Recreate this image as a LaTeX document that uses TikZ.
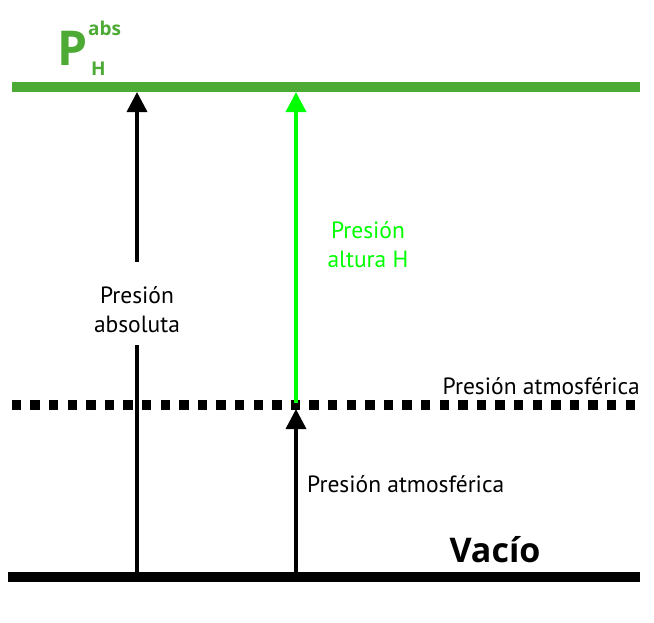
\documentclass[tikz,border=0pt]{standalone}
\usepackage{fontspec}
\setmainfont{PT Sans}
\setsansfont{Open Sans}
\usetikzlibrary{arrows.meta}
\definecolor{lvlgreen}{HTML}{4DAA35}
\definecolor{hgreen}{HTML}{00FF00}

\begin{document}
\begin{tikzpicture}[x=1pt, y=-1pt,
    lbl/.style = {font=\fontsize{23.5}{29}\selectfont, align=center, inner sep=0pt},
    tag/.style = {text=lvlgreen, font=\sffamily\bfseries\fontsize{19}{19}\selectfont, inner sep=0pt, anchor=base west},
    arr/.style = {line width=3.5pt, -{Triangle[length=20pt, width=20pt]}}]
    \useasboundingbox (0,0) rectangle (654,622);
    % levels
    \coordinate (g0) at (12,87);
    \coordinate (g1) at (640,87);
    \coordinate (d0) at (11.7,405);
    \coordinate (d1) at (636,405);
    \coordinate (v0) at (8,577);
    \coordinate (v1) at (640,577);
    \draw[lvlgreen, line width=10pt] (g0) -- (g1);
    \draw[line width=9.5pt, dash pattern=on 9.5pt off 9.1pt] (d0) -- (d1);
    \draw[line width=10pt] (v0) -- (v1);
    % arrow ends
    \coordinate (a0) at (137,572);
    \coordinate (a1) at (137,92);
    \coordinate (b0) at (296,572);
    \coordinate (b1) at (296,409);
    \coordinate (c0) at (296,403);
    \coordinate (c1) at (296,92);
    % labels
    \node[lbl] (abs) at (137,310) {Presión\\absoluta};
    \node[lbl, text=hgreen] (alt) at (368,245) {Presión\\altura H};
    \node[lbl, anchor=base east] (atm1) at (640,394) {Presión atmosférica};
    \node[lbl, anchor=base west] (atm2) at (307,492) {Presión atmosférica};
    \node[font=\sffamily\bfseries\fontsize{34}{36}\selectfont, inner sep=0pt, anchor=base] (vac) at (495,562) {Vacío};
    \node[tag, font=\sffamily\bfseries\fontsize{48}{48}\selectfont] (P) at (57,65) {P};
    \node[tag] (sup) at (88,35) {abs};
    \node[tag] (sub) at (91,75) {H};
    % arrows
    \draw[line width=3.5pt] (a0) -- ([yshift=-12pt]abs.south);
    \draw[arr] ([yshift=25pt]abs.north) -- (a1);
    \draw[arr] (b0) -- (b1);
    \draw[arr, hgreen] (c0) -- (c1);
\end{tikzpicture}
\end{document}
